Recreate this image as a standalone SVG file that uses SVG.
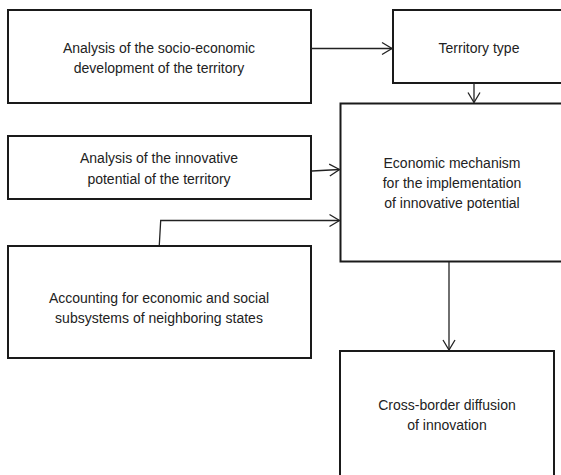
<svg xmlns="http://www.w3.org/2000/svg" width="561" height="475" viewBox="0 0 561 475">
<style>
.box{fill:#fff;stroke:#1a1a1a;stroke-width:2}
.t{font-family:"Liberation Sans",Arial,sans-serif;font-size:14px;fill:#222;text-anchor:middle}
.c{fill:none;stroke:#222;stroke-width:1.3}
</style>
<defs>
<marker id="ah" markerUnits="userSpaceOnUse" markerWidth="14" markerHeight="14" refX="10" refY="6" orient="auto" overflow="visible">
<path d="M0,0 L10,6 L0,12" fill="none" stroke="#222" stroke-width="1.3"/>
</marker>
</defs>
<rect width="561" height="475" fill="#fff"/>
<g id="n1"><rect class="box" x="8" y="10" width="303" height="93"/>
<text class="t" x="159" y="53">Analysis of the socio-economic</text>
<text class="t" x="159" y="73">development of the territory</text></g>
<g id="n2"><rect class="box" x="393" y="10" width="200" height="73"/>
<text class="t" x="479" y="53">Territory type</text></g>
<g id="n3"><rect class="box" x="340.5" y="103.5" width="260" height="158"/>
<text class="t" x="452" y="168">Economic mechanism</text>
<text class="t" x="452" y="188">for the implementation</text>
<text class="t" x="452" y="208">of innovative potential</text></g>
<g id="n4"><rect class="box" x="8" y="136" width="303" height="63"/>
<text class="t" x="159" y="163">Analysis of the innovative</text>
<text class="t" x="159" y="184">potential of the territory</text></g>
<g id="n5"><rect class="box" x="8" y="246" width="303" height="112"/>
<text class="t" x="159" y="303">Accounting for economic and social</text>
<text class="t" x="159" y="323">subsystems of neighboring states</text></g>
<g id="n6"><rect class="box" x="340" y="351" width="214" height="140"/>
<text class="t" x="447" y="410">Cross-border diffusion</text>
<text class="t" x="447" y="430">of innovation</text></g>
<g id="connectors">
<path class="c" d="M311,48.5 L392,48.5" marker-end="url(#ah)"/>
<path class="c" d="M474,83 L474,102.5" marker-end="url(#ah)"/>
<path class="c" d="M312,171 L339.5,169.5" marker-end="url(#ah)"/>
<path class="c" d="M159.3,245 L160.7,220.5 L339.5,220.5" marker-end="url(#ah)"/>
<path class="c" d="M449,262 L449,350" marker-end="url(#ah)"/>
</g>
</svg>
